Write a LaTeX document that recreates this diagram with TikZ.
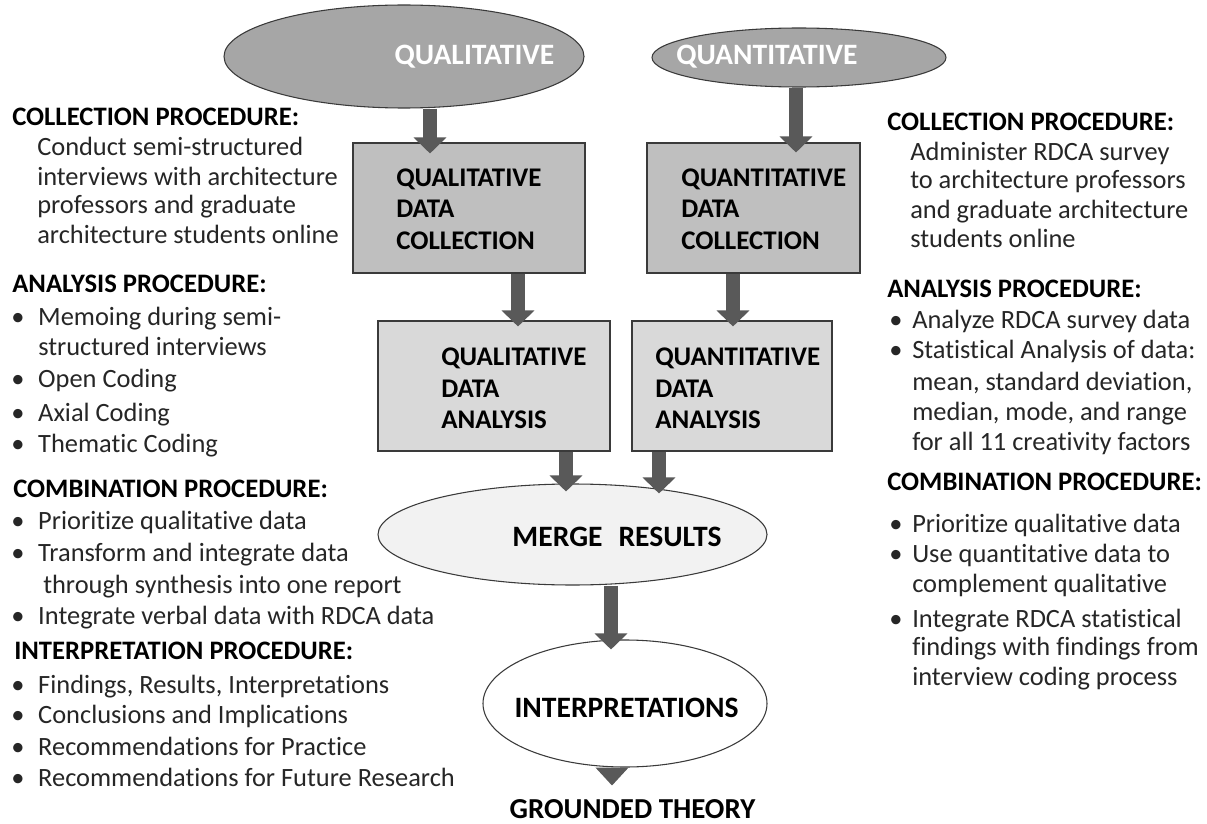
\documentclass[tikz,border=0pt]{standalone}
\usepackage{fontspec}
\setmainfont{Carlito}[Ligatures=NoCommon]
\usepackage{tikz}
\usetikzlibrary{shapes.geometric,arrows.meta,positioning,calc}

\definecolor{ovalgray}{HTML}{A6A6A6}
\definecolor{collectfill}{HTML}{BFBFBF}
\definecolor{analysefill}{HTML}{D9D9D9}
\definecolor{mergefill}{HTML}{F2F2F2}
\definecolor{arrowgray}{HTML}{595959}
\definecolor{edgegray}{HTML}{3A3A3A}
\definecolor{bodytext}{HTML}{262626}

\newcommand{\lbul}{\makebox[20.25pt][l]{\textbullet}}
\newcommand{\rbul}{\makebox[17.25pt][l]{\textbullet}}
\newcommand{\hd}[1]{{\fontsize{20}{23}\selectfont\bfseries\color{black}#1}}

\tikzset{
  oval/.style={draw=edgegray,line width=0.8pt,ellipse,inner sep=0pt},
  databox/.style={draw=edgegray,line width=0.8pt,rectangle,inner sep=0pt,minimum height=97.5pt},
  boxtext/.style={font=\fontsize{20.2}{23.6}\selectfont\bfseries,align=left,inner sep=0pt,anchor=west},
  ovaltext/.style={font=\fontsize{22.2}{26}\selectfont\bfseries,inner sep=0pt},
  bodyline/.style={font=\fontsize{19.8}{23}\selectfont,text=bodytext,anchor=base west,inner sep=0pt},
  arr/.style={-{Triangle[width=24pt,length=12pt]},line width=11pt,draw=arrowgray},
}

\begin{document}
\begin{tikzpicture}[x=0.75pt,y=-0.75pt]
  \useasboundingbox (0,0) rectangle (1207,824);
  \fill[white] (0,0) rectangle (1207,824);

  %% Top ovals
  \node[oval,fill=ovalgray,minimum width=270pt,minimum height=77.25pt] (qual) at (404,56.5) {};
  \node[oval,fill=ovalgray,minimum width=220.5pt,minimum height=44.25pt] (quant) at (799,57.5) {};
  \node[ovaltext,text=white] (qualt) at (474.5,56.5) {QUALITATIVE};
  \node[ovaltext,text=white] (quantt) at (767,56.5) {QUANTITATIVE};

  %% Collection boxes
  \node[databox,fill=collectfill,minimum width=174pt] (c1) at (469,208) {};
  \node[databox,fill=collectfill,minimum width=159.75pt] (c2) at (753.5,208) {};
  \node[boxtext] (c1t) at (396,209) {QUALITATIVE\\DATA\\COLLECTION};
  \node[boxtext] (c2t) at (681,209) {QUANTITATIVE\\DATA\\COLLECTION};

  %% Analysis boxes
  \node[databox,fill=analysefill,minimum width=174pt] (a1) at (494,386) {};
  \node[databox,fill=analysefill,minimum width=150pt] (a2) at (732,386) {};
  \node[boxtext] (a1t) at (441,388.5) {QUALITATIVE\\DATA\\ANALYSIS};
  \node[boxtext] (a2t) at (655,388.5) {QUANTITATIVE\\DATA\\ANALYSIS};

  %% Merge, interpretations, theory
  \node[oval,fill=mergefill,minimum width=291.75pt,minimum height=75.75pt] (merge) at (572.5,534.5) {};
  \node[ovaltext] (merget) at (617,537) {MERGE\hspace{12pt}RESULTS};
  \node[oval,fill=white,minimum width=213pt,minimum height=95.25pt] (interp) at (625,703.5) {};
  \node[ovaltext] (interpt) at (626.5,708) {INTERPRETATIONS};
  \coordinate (gt) at ($(interp.south)+(-13,18)$);
  \node[ovaltext,font=\fontsize{21.7}{26}\selectfont\bfseries] (theory) at (632.5,809.5) {GROUNDED THEORY};

  %% Arrows
  \draw[arr] ($(qual.south)+(26,0)$) -- ($(c1.north)+(-39,11)$);
  \draw[arr] ($(quant.south)+(-3,0)$) -- ($(c2.north)+(42.5,10)$);
  \draw[arr] ($(c1.south)+(49,0)$) -- ($(a1.north)+(24,6)$);
  \draw[arr] ($(c2.south)+(-20.5,0)$) -- ($(a2.north)+(1,6)$);
  \draw[arr] ($(a1.south)+(72,0)$) -- ($(merge.north)+(-6.5,8)$);
  \draw[arr] ($(a2.south)+(-73,0)$) -- ($(merge.north)+(86.5,10)$);
  \draw[arr] ($(merge.south)+(38.5,0)$) -- ($(interp.north)+(-14,10)$);
  \draw[arr,-{Triangle[width=24pt,length=13.5pt]}] ($(interp.south)+(-13,0)$) -- (gt);

  %% Left column procedures
  \foreach \x/\y/\t [count=\i] in {
    12/125/{\hd{COLLECTION PROCEDURE:}},
    37/155/{Conduct semi-structured},
    37/185/{interviews with architecture},
    37/213/{professors and graduate},
    37/243/{architecture students online},
    12/292/{\hd{ANALYSIS PROCEDURE:}},
    11/325/{\lbul Memoing during semi-},
    38/355/{structured interviews},
    11/387/{\lbul Open Coding},
    11/421/{\lbul Axial Coding},
    11/452/{\lbul Thematic Coding},
    13/497/{\hd{COMBINATION PROCEDURE:}},
    11/529/{\lbul Prioritize qualitative data},
    11/561/{\lbul Transform and integrate data},
    43/593/{through synthesis into one report},
    11/624/{\lbul Integrate verbal data with RDCA data},
    14/659/{\hd{INTERPRETATION PROCEDURE:}},
    11/693/{\lbul Findings, Results, Interpretations},
    11/723/{\lbul Conclusions and Implications},
    11/755/{\lbul Recommendations for Practice},
    11/786/{\lbul Recommendations for Future Research}}
    \node[bodyline] (ltxt\i) at (\x,\y) {\t};

  %% Right column procedures
  \foreach \x/\y/\t [count=\i] in {
    887/130/{\hd{COLLECTION PROCEDURE:}},
    910/160/{Administer RDCA survey},
    910/188/{to architecture professors},
    910/218/{and graduate architecture},
    910/247/{students online},
    887/297/{\hd{ANALYSIS PROCEDURE:}},
    889/328/{\rbul Analyze RDCA survey data},
    889/358/{\rbul Statistical Analysis of data:},
    912/390/{mean, standard deviation,},
    912/420/{median, mode, and range},
    912/450/{for all 11 creativity factors},
    887/490/{\hd{COMBINATION PROCEDURE:}},
    889/532/{\rbul Prioritize qualitative data},
    889/562/{\rbul Use quantitative data to},
    912/592/{complement qualitative},
    889/627/{\rbul Integrate RDCA statistical},
    912/655/{findings with findings from},
    912/685/{interview coding process}}
    \node[bodyline] (rtxt\i) at (\x,\y) {\t};
\end{tikzpicture}
\end{document}
